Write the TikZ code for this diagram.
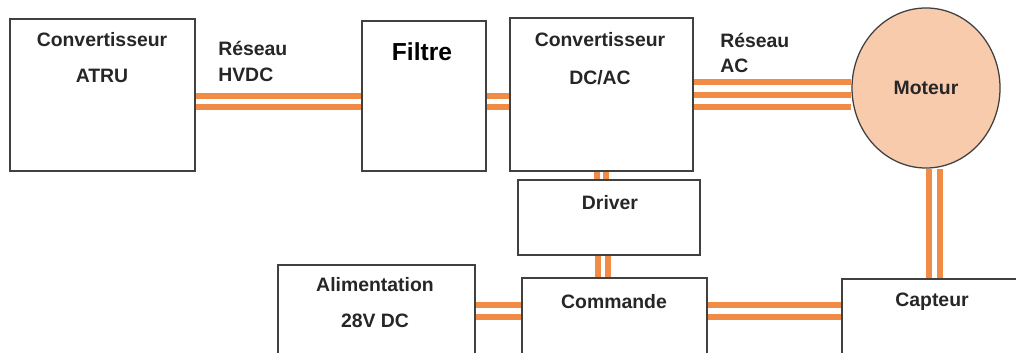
\documentclass[tikz,border=0pt]{standalone}
\usepackage{fontspec}
\setmainfont{Liberation Sans}
\usepackage{tikz}
\usetikzlibrary{shapes.geometric}

\definecolor{bus}{RGB}{240,140,70}
\definecolor{peach}{RGB}{248,203,173}
\definecolor{edge}{RGB}{64,64,64}
\definecolor{ink}{RGB}{38,38,38}

\tikzset{
blok/.style={draw=edge, line width=0.9pt, rectangle, inner sep=0},
txt/.style={font=\bfseries\fontsize{13.8}{16}\selectfont, text=ink, inner sep=0},
wire/.style={draw=bus, line width=3.9pt}
}

\begin{document}
\begin{tikzpicture}[x=0.025cm, y=-0.025cm]
\useasboundingbox (0,0) rectangle (1016,353);
\clip (0,0) rectangle (1016,353);

% blocs
\node[blok, minimum width=4.625cm, minimum height=3.8cm] (atru) at (102.5,95) {};
\node[blok, minimum width=3.1cm, minimum height=3.75cm] (filtre) at (424,96) {};
\node[blok, minimum width=4.575cm, minimum height=3.825cm] (dcac) at (601.5,94.5) {};
\node[blok, minimum width=4.55cm, minimum height=1.875cm] (driver) at (609,217.5) {};
\node[blok, minimum width=4.925cm, minimum height=2.625cm] (alim) at (376.5,317.5) {};
\node[blok, minimum width=4.625cm, minimum height=2.3cm] (commande) at (614.5,324) {};
\node[blok, minimum width=4.7cm, minimum height=2.275cm] (capteur) at (936,324.5) {};
\node[ellipse, draw=edge, line width=0.9pt, fill=peach, minimum width=3.7cm, minimum height=4cm, txt] (moteur) at (926,88) {Moteur};

% textes
\node[txt] (atru1) at (102,40) {Convertisseur};
\node[txt] (atru2) at (102,76) {ATRU};
\node[txt, anchor=west] (hvdc1) at (218,48) {Réseau};
\node[txt, anchor=west] (hvdc2) at (218,75) {HVDC};
\node[txt, font=\bfseries\fontsize{17.5}{20}\selectfont, text=black] (filtre1) at (422,52) {Filtre};
\node[txt] (dcac1) at (600,40) {Convertisseur};
\node[txt] (dcac2) at (600,78) {DC/AC};
\node[txt, anchor=west] (ac1) at (720,40) {Réseau};
\node[txt, anchor=west] (ac2) at (720,66) {AC};
\node[txt] (driver1) at (610,203) {Driver};
\node[txt] (alim1) at (375,285) {Alimentation};
\node[txt] (alim2) at (375,321) {28V DC};
\node[txt] (commande1) at (614,302) {Commande};
\node[txt] (capteur1) at (932,302) {Capteur};

% liaisons
\foreach \y in {96,107}
{
\draw[wire] (atru.east |- 0,\y) -- (filtre.west |- 0,\y);
\draw[wire] (filtre.east |- 0,\y) -- (dcac.west |- 0,\y);
}

\foreach \y in {82,95,107}
\draw[wire] (dcac.east |- 0,\y) -- (moteur.west |- 0,\y);

\foreach \y in {305,317}
{
\draw[wire] (alim.east |- 0,\y) -- (commande.west |- 0,\y);
\draw[wire] (commande.east |- 0,\y) -- (capteur.west |- 0,\y);
}

\foreach \x in {597,606}
\draw[wire] (\x,0 |- dcac.south) -- (\x,0 |- driver.north);

\foreach \x in {598,608}
\draw[wire] (\x,0 |- driver.south) -- (\x,0 |- commande.north);

\foreach \x in {929,940}
\draw[wire] (\x,0 |- moteur.south) -- (\x,0 |- capteur.north);
\end{tikzpicture}
\end{document}
